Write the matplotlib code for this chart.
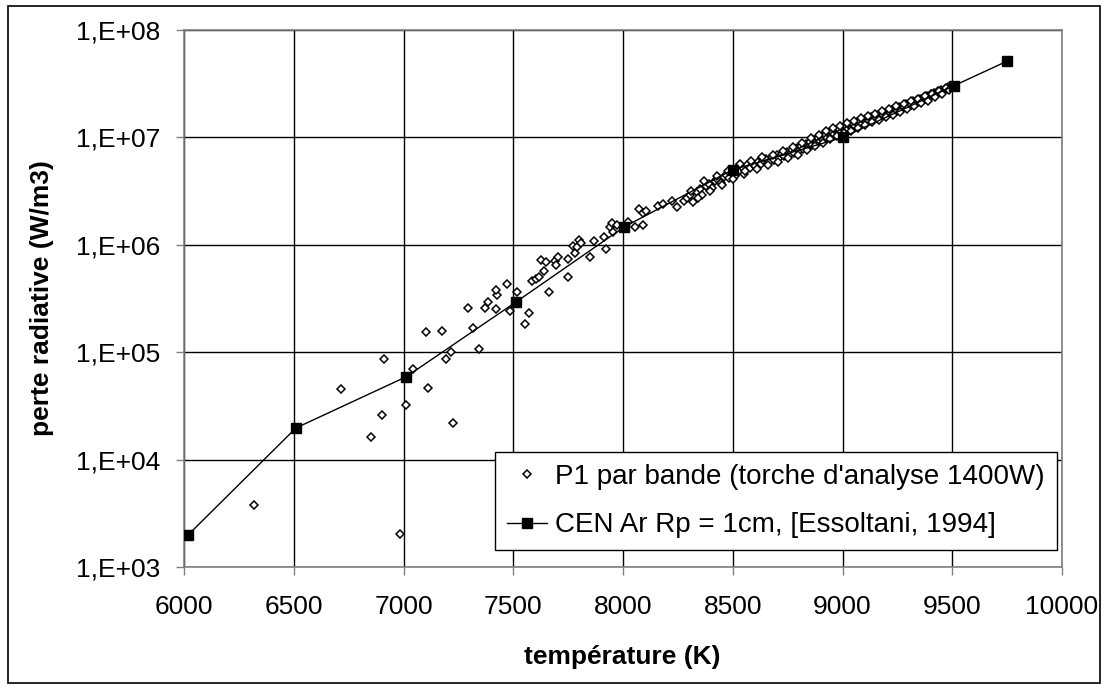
import matplotlib
matplotlib.use("Agg")
import matplotlib.pyplot as plt
from matplotlib.patches import Rectangle
from matplotlib.ticker import FixedLocator, FuncFormatter, NullLocator
import numpy as np

plt.rcParams['font.family'] = ['Liberation Sans', 'DejaVu Sans']

# DATA
# CEN Ar Rp = 1cm, [Essoltani, 1994]
cen_T = [6020, 6510, 7012, 7512, 8006, 8500, 9001, 9508, 9751]
cen_P = [2.0e3, 1.97e4, 5.9e4, 2.93e5, 1.47e6, 5.0e6, 1.0e7, 3.03e7, 5.14e7]

# P1 par bande (torche d'analyse 1400W)
p1_T = [6320, 6984, 6851, 6903, 6717, 6910, 7011, 7043, 7112, 7104, 7177,
        7192, 7218, 7226, 7292, 7318, 7345, 7373, 7386, 7420, 7426, 7420,
        7473, 7485, 7516, 7553, 7572, 7584, 7604, 7619, 7628, 7640, 7649,
        7661, 7689, 7695, 7704, 7748, 7748, 7774, 7783, 7792, 7801, 7810,
        7850, 7869, 7915, 7923, 7941, 7949, 7953, 7971, 8023, 8056, 8090,
        8074, 8093, 8105, 8161, 8184, 8222, 8244, 8278,
        8290, 8305, 8320, 8335, 8350, 8362, 8378, 8390, 8405, 8418, 8430,
        8445, 8458, 8470, 8482, 8495, 8508, 8515, 8528, 8540, 8552, 8565,
        8578, 8590, 8602, 8615, 8628, 8640, 8652, 8665, 8678, 8690, 8702,
        8712, 8725, 8735, 8748, 8758, 8770, 8780, 8792, 8802, 8812, 8822,
        8832, 8842, 8852, 8860, 8870, 8878, 8888, 8896, 8905, 8913, 8922,
        8930, 8938, 8946, 8954, 8962, 8970, 8978, 8986, 8994, 9002, 9010,
        9018, 9026, 9034, 9042, 9050, 9058, 9066, 9074, 9082, 9090, 9098,
        9106, 9114, 9122, 9130, 9138, 9146, 9154, 9162, 9170, 9178, 9186,
        9194, 9202, 9210, 9218, 9226, 9234, 9242, 9250, 9258, 9266, 9274,
        9282, 9290, 9298, 9306, 9314, 9322, 9330, 9338, 9346, 9354, 9362,
        9370, 9378, 9386, 9394, 9402, 9410, 9418, 9426, 9434, 9442, 9450,
        9458, 9466, 9474, 9482, 9490, 9498,
        8310, 8342, 8371, 8398, 8426, 8452, 8477, 8503, 8533, 8558, 8584,
        8609, 8634, 8659, 8684, 8708, 8731, 8753, 8775, 8797, 8817, 8837,
        8857, 8875, 8893, 8910, 8926, 8942, 8958, 8974, 8990, 9006, 9022,
        9038, 9054, 9070, 9086, 9102, 9118, 9134, 9150, 9166, 9182, 9198,
        9214, 9230, 9246, 9262, 9278, 9294, 9310, 9326, 9342, 9358, 9374,
        9390, 9406, 9422, 9438, 9454, 9470, 9486]
p1_P = [3.8e3, 2.03e3, 1.63e4, 2.6e4, 4.5e4, 8.6e4, 3.2e4, 7.0e4, 4.6e4,
        1.53e5, 1.57e5, 8.6e4, 1.01e5, 2.2e4, 2.6e5, 1.68e5, 1.08e5, 2.6e5,
        2.95e5, 2.5e5, 3.4e5, 3.8e5, 4.3e5, 2.4e5, 3.6e5, 1.84e5, 2.3e5,
        4.6e5, 4.8e5, 5.0e5, 7.2e5, 5.7e5, 6.9e5, 3.6e5, 7.1e5, 6.5e5,
        7.7e5, 7.3e5, 5.0e5, 9.8e5, 8.3e5, 9.6e5, 1.12e6, 1.03e6, 7.7e5,
        1.08e6, 1.18e6, 9.1e5, 1.46e6, 1.61e6, 1.32e6, 1.52e6, 1.62e6,
        1.47e6, 1.53e6, 2.15e6, 1.96e6, 2.07e6, 2.3e6, 2.4e6, 2.56e6,
        2.23e6, 2.56e6,
        2.7e6, 2.9e6, 2.5e6, 3.1e6, 3.3e6, 2.9e6, 3.5e6, 3.7e6, 3.4e6,
        3.9e6, 4.1e6, 3.8e6, 4.3e6, 4.5e6, 4.2e6, 4.8e6, 4.4e6, 5.1e6,
        4.9e6, 5.3e6, 4.6e6, 5.5e6, 5.2e6, 5.7e6, 5.4e6, 5.9e6, 5.6e6,
        6.1e6, 6.3e6, 5.9e6, 6.5e6, 6.2e6, 6.8e6, 6.4e6, 7.0e6, 6.7e6,
        7.3e6, 6.9e6, 7.6e6, 7.2e6, 7.9e6, 7.5e6, 8.3e6, 7.8e6, 8.7e6,
        8.1e6, 9.0e6, 8.5e6, 9.4e6, 8.8e6, 9.8e6, 9.2e6, 1.02e7, 9.5e6,
        1.06e7, 9.9e6, 1.1e7, 1.03e7, 1.13e7, 1.07e7, 1.17e7, 1.1e7, 1.2e7,
        1.13e7, 1.23e7, 1.16e7, 1.27e7, 1.2e7, 1.3e7, 1.23e7, 1.34e7,
        1.27e7, 1.38e7, 1.3e7, 1.42e7, 1.34e7, 1.46e7, 1.38e7, 1.5e7,
        1.42e7, 1.54e7, 1.46e7, 1.58e7, 1.5e7, 1.62e7, 1.55e7, 1.66e7,
        1.6e7, 1.7e7, 1.64e7, 1.75e7, 1.68e7, 1.8e7, 1.73e7, 1.86e7,
        1.78e7, 1.92e7, 1.84e7, 1.98e7, 1.9e7, 2.04e7, 1.96e7, 2.1e7,
        2.02e7, 2.16e7, 2.08e7, 2.22e7, 2.15e7, 2.3e7, 2.22e7, 2.37e7,
        2.3e7, 2.45e7, 2.38e7, 2.53e7, 2.46e7, 2.6e7, 2.55e7, 2.68e7,
        2.63e7, 2.76e7, 2.72e7, 2.84e7, 2.8e7, 2.92e7, 2.88e7, 3.0e7,
        3.2e6, 2.7e6, 3.9e6, 3.2e6, 4.4e6, 3.6e6, 4.9e6, 4.1e6, 5.6e6,
        4.9e6, 6.0e6, 5.1e6, 6.5e6, 5.5e6, 6.9e6, 5.9e6, 7.5e6, 6.4e6,
        8.1e6, 6.9e6, 8.9e6, 7.6e6, 9.8e6, 8.3e6, 1.06e7, 8.9e6, 1.15e7,
        9.6e6, 1.22e7, 1.02e7, 1.28e7, 1.09e7, 1.35e7, 1.14e7, 1.42e7,
        1.22e7, 1.5e7, 1.3e7, 1.58e7, 1.38e7, 1.66e7, 1.46e7, 1.75e7,
        1.55e7, 1.84e7, 1.63e7, 1.94e7, 1.73e7, 2.05e7, 1.84e7, 2.16e7,
        1.95e7, 2.28e7, 2.07e7, 2.42e7, 2.2e7, 2.56e7, 2.36e7, 2.72e7,
        2.56e7, 2.9e7, 2.75e7]

x_ticks = [6000, 6500, 7000, 7500, 8000, 8500, 9000, 9500, 10000]
y_ticks = [1e3, 1e4, 1e5, 1e6, 1e7, 1e8]

label_p1 = "P1 par bande (torche d'analyse 1400W)"
label_cen = "CEN Ar Rp = 1cm, [Essoltani, 1994]"

# FIGURE
fig = plt.figure(figsize=(11.06, 6.88), dpi=100)
ax = fig.add_axes([184 / 1106, 1 - 567 / 688, 878 / 1106, 537 / 688])

ax.plot(p1_T, p1_P, linestyle='none', marker='D', markersize=4.2,
        markerfacecolor='white', markeredgecolor='black',
        markeredgewidth=1.1, label=label_p1, zorder=4)
ax.plot(cen_T, cen_P, color='black', linewidth=1.0, marker='s',
        markersize=7, markerfacecolor='black', markeredgecolor='black',
        label=label_cen, zorder=5)

ax.set_yscale('log')
ax.set_xlim(6000, 10000)
ax.set_ylim(1e3, 1e8)
ax.xaxis.set_major_locator(FixedLocator(x_ticks))
ax.yaxis.set_major_locator(FixedLocator(y_ticks))
ax.yaxis.set_minor_locator(NullLocator())
ax.yaxis.set_major_formatter(
    FuncFormatter(lambda v, pos: "1,E+%02d" % int(round(np.log10(v)))))

ax.grid(True, color='black', linewidth=1.0)
ax.set_axisbelow(True)
for side in ['left', 'bottom', 'right', 'top']:
    ax.spines[side].set_color('#808080')
    ax.spines[side].set_linewidth(1.2)

ax.tick_params(axis='both', which='major', labelsize=19, direction='out',
               length=6, width=1.0, color='#808080')
ax.tick_params(axis='y', pad=11)
ax.tick_params(axis='x', pad=14)

fig.text(622 / 1106, 1 - 657 / 688, "température (K)", fontsize=19,
         fontweight='bold', ha='center', va='center')
fig.text(42 / 1106, 1 - 298 / 688, "perte radiative (W/m3)", fontsize=19,
         fontweight='bold', ha='center', va='center', rotation=90)

leg = ax.legend(loc='lower right', bbox_to_anchor=(0.994, 0.0317),
                borderaxespad=0, fontsize=20, fancybox=False, shadow=False,
                framealpha=1, edgecolor='black', handlelength=1.45,
                handletextpad=0.3, labelspacing=0.8, borderpad=0.42)
leg.get_frame().set_linewidth(1.0)

# outer chart border
fig.patches.append(Rectangle((8 / 1106, 5 / 688), 1092 / 1106, 677 / 688,
                             transform=fig.transFigure, fill=False,
                             edgecolor='black', linewidth=1.2))

fig.savefig("out.png", dpi=100)
